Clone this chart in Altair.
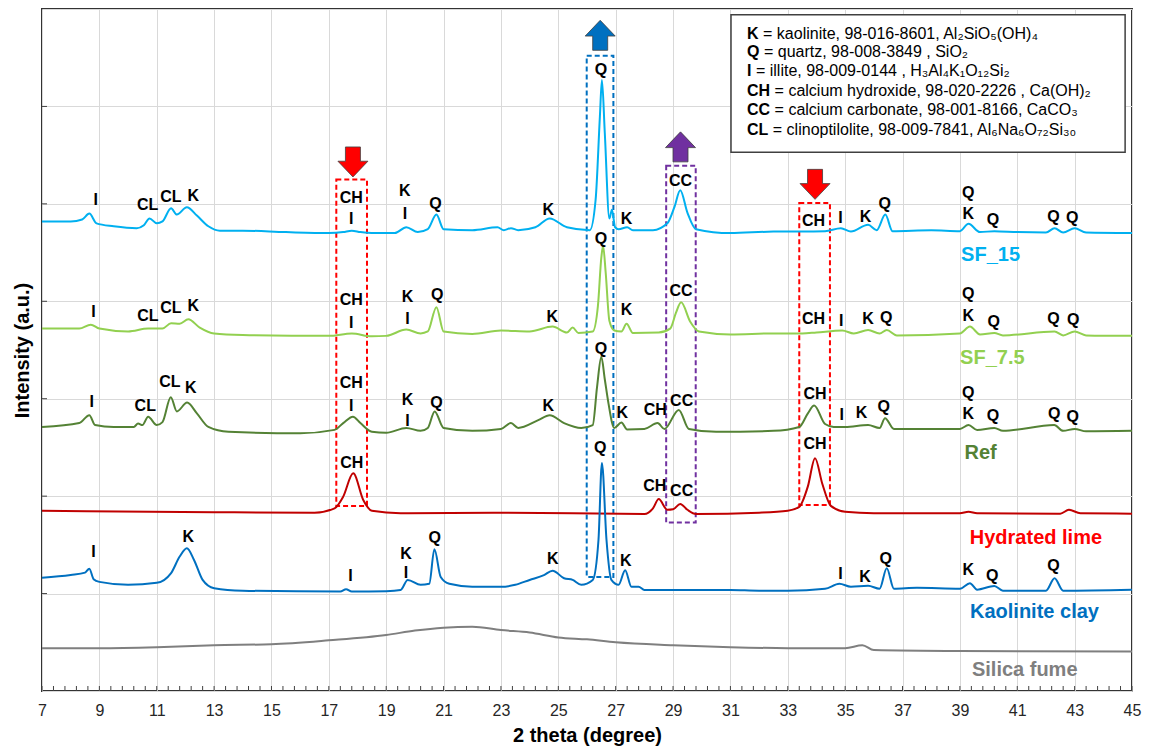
import altair as alt
import pandas as pd

# ---------------- series data (2theta in degrees, stacked intensity in a.u.) ----------------
sf15_x = [7, 8, 8.4, 8.65, 8.9, 9.5, 10.3, 10.55, 10.75, 11.0, 11.2, 11.5, 11.7, 12.05, 12.4, 12.8, 13.2, 14, 15.5,
          17, 17.5, 17.8, 18.1, 18.5, 19.3, 19.7, 20.1, 20.45, 20.75, 21.0, 22, 22.88, 23.1, 23.35, 23.6, 24.2, 24.7,
          25.3, 26.1, 26.3, 26.45, 26.52, 26.62, 26.78, 26.87, 26.98, 27.1, 27.4, 27.6, 28.3, 28.8, 29.05, 29.25,
          29.5, 29.8, 31, 32.5, 33.5, 34.3, 34.85, 35.2, 35.8, 36.1, 36.4, 36.65, 38, 39, 39.3, 39.7, 40.2, 41, 42,
          42.3, 42.6, 43.0, 43.4, 45]
sf15_y = [4.82, 4.82, 4.84, 4.90, 4.80, 4.77, 4.75, 4.78, 4.85, 4.80, 4.82, 4.955, 4.89, 4.965, 4.88, 4.77, 4.725,
          4.725, 4.71, 4.70, 4.71, 4.725, 4.71, 4.70, 4.70, 4.76, 4.71, 4.74, 4.89, 4.74, 4.73, 4.76, 4.73, 4.75,
          4.73, 4.76, 4.85, 4.76, 4.73, 5.04, 5.90, 6.27, 5.73, 4.85, 4.94, 4.76, 4.74, 4.76, 4.73, 4.73, 4.80, 4.97,
          5.14, 4.91, 4.74, 4.70, 4.715, 4.715, 4.72, 4.75, 4.715, 4.785, 4.73, 4.89, 4.72, 4.73, 4.72, 4.795, 4.71,
          4.72, 4.71, 4.705, 4.75, 4.705, 4.75, 4.705, 4.70]

sf75_x = [7, 8.3, 8.7, 9.0, 10.0, 10.7, 11.2, 11.5, 11.8, 12.1, 12.5, 13.0, 14.0, 17.0, 17.8, 18.5, 19.0, 19.7, 20.2,
          20.45, 20.75, 21.0, 22.0, 23.0, 24.0, 24.8, 25.3, 25.5, 25.7, 26.2, 26.38, 26.5, 26.56, 26.65, 26.78, 26.95,
          27.2, 27.38, 27.6, 28.5, 28.9, 29.1, 29.28, 29.6, 29.9, 31.0, 32.5, 33.5, 34.0, 34.9, 35.3, 35.8, 36.2,
          36.45, 36.8, 39.0, 39.35, 39.7, 40.2, 40.5, 42.3, 42.6, 43.0, 43.4, 45.0]
sf75_y = [3.72, 3.72, 3.76, 3.72, 3.69, 3.72, 3.72, 3.775, 3.77, 3.815, 3.73, 3.67, 3.655, 3.645, 3.67, 3.64, 3.645,
          3.71, 3.67, 3.69, 3.94, 3.69, 3.665, 3.70, 3.69, 3.74, 3.68, 3.73, 3.675, 3.69, 3.95, 4.45, 4.57, 4.30, 3.80,
          3.70, 3.69, 3.77, 3.675, 3.68, 3.72, 3.88, 3.99, 3.79, 3.69, 3.66, 3.67, 3.67, 3.68, 3.70, 3.67, 3.705, 3.67,
          3.705, 3.65, 3.67, 3.74, 3.66, 3.675, 3.65, 3.69, 3.65, 3.69, 3.65, 3.645]

ref_x = [7, 8.3, 8.65, 8.85, 9.5, 10.2, 10.35, 10.5, 10.7, 11.0, 11.2, 11.49, 11.7, 12.06, 12.4, 12.8, 13.5, 16.0,
         17.2, 17.5, 17.84, 18.1, 18.5, 19.0, 19.7, 20.2, 20.45, 20.69, 21.0, 22.0, 23.0, 23.35, 23.6, 24.3, 24.7,
         25.2, 25.8, 26.2, 26.35, 26.5, 26.62, 26.75, 26.95, 27.2, 27.4, 28.0, 28.46, 28.7, 29.2, 29.55, 30.5, 32.5,
         33.4, 33.7, 33.92, 34.3, 34.6, 35.0, 35.8, 36.2, 36.39, 36.7, 39.0, 39.3, 39.6, 40.2, 40.5, 42.29, 42.6,
         43.0, 43.4, 45.0]
ref_y = [2.71, 2.75, 2.83, 2.73, 2.71, 2.71, 2.745, 2.73, 2.816, 2.73, 2.76, 3.015, 2.87, 2.96, 2.85, 2.71, 2.66,
         2.645, 2.68, 2.75, 2.816, 2.75, 2.66, 2.65, 2.70, 2.67, 2.70, 2.87, 2.70, 2.67, 2.69, 2.75, 2.70, 2.78, 2.83,
         2.75, 2.70, 2.73, 3.12, 3.43, 3.20, 2.95, 2.70, 2.755, 2.685, 2.69, 2.75, 2.69, 2.885, 2.69, 2.66, 2.67,
         2.71, 2.85, 2.93, 2.74, 2.71, 2.71, 2.73, 2.70, 2.80, 2.69, 2.69, 2.73, 2.68, 2.70, 2.67, 2.73, 2.67, 2.69,
         2.665, 2.67]

lime_x = [7, 13, 16.5, 17.2, 17.5, 17.85, 18.2, 18.5, 19.5, 23, 28.0, 28.3, 28.5, 28.8, 29.0, 29.25, 29.5, 29.8,
          32.0, 33.0, 33.4, 33.7, 33.95, 34.2, 34.5, 35.0, 36.0, 39.0, 39.3, 39.6, 42.5, 42.8, 43.2, 45.0]
lime_y = [1.85, 1.835, 1.83, 1.875, 1.995, 2.235, 1.96, 1.85, 1.825, 1.83, 1.817, 1.875, 1.97, 1.86, 1.865, 1.92,
          1.86, 1.817, 1.83, 1.85, 1.89, 2.10, 2.39, 2.13, 1.90, 1.84, 1.825, 1.825, 1.84, 1.825, 1.82, 1.86, 1.825,
          1.82]

kao_x = [7, 8.0, 8.5, 8.65, 8.8, 9.0, 10.0, 11.0, 11.5, 11.8, 12.05, 12.3, 12.6, 13.0, 14.0, 17.4, 17.6, 17.8, 19.0,
         19.5, 19.75, 20.2, 20.5, 20.68, 20.9, 21.2, 22.0, 23.0, 23.5, 24.0, 24.5, 24.8, 25.2, 25.5, 25.8, 26.2, 26.4,
         26.52, 26.68, 26.85, 27.1, 27.33, 27.55, 27.8, 28.0, 31.0, 32.0, 33.0, 34.3, 34.8, 35.2, 35.8, 36.2, 36.45,
         36.7, 37.5, 39.0, 39.35, 39.6, 40.2, 40.5, 42.0, 42.3, 42.6, 45.0]
kao_y = [1.163, 1.19, 1.215, 1.256, 1.147, 1.12, 1.09, 1.11, 1.21, 1.38, 1.465, 1.345, 1.14, 1.055, 1.03, 1.02,
         1.045, 1.02, 1.025, 1.037, 1.14, 1.09, 1.10, 1.455, 1.17, 1.10, 1.07, 1.07, 1.09, 1.14, 1.19, 1.235, 1.157,
         1.14, 1.09, 1.14, 1.55, 2.34, 1.55, 1.14, 1.09, 1.24, 1.07, 1.07, 1.037, 1.037, 1.03, 1.03, 1.05, 1.10, 1.07,
         1.08, 1.05, 1.26, 1.05, 1.06, 1.05, 1.106, 1.04, 1.078, 1.03, 1.03, 1.157, 1.03, 1.04]

sfume_x = [7, 9, 11, 13, 15, 17, 19, 20, 21, 22, 23, 24, 25, 26, 27, 29, 31, 33, 35, 35.6, 36.0, 39, 45]
sfume_y = [0.44, 0.44, 0.45, 0.47, 0.48, 0.52, 0.575, 0.62, 0.65, 0.66, 0.625, 0.60, 0.55, 0.53, 0.50, 0.47, 0.45,
           0.44, 0.44, 0.47, 0.42, 0.41, 0.405]

series_names = ["SF_15", "SF_7.5", "Ref", "Hydrated lime", "Kaolinite clay", "Silica fume"]
series_xs = [sf15_x, sf75_x, ref_x, lime_x, kao_x, sfume_x]
series_ys = [sf15_y, sf75_y, ref_y, lime_y, kao_y, sfume_y]
line_colors = ["#00B0F0", "#92D050", "#548235", "#C00000", "#0070C0", "#7F7F7F"]
name_colors = ["#00B0F0", "#92D050", "#548235", "#FF0000", "#0070C0", "#7F7F7F"]
name_x = [40.07, 40.13, 39.72, 41.65, 41.6, 41.26]
name_y = [4.48, 3.42, 2.44, 1.57, 0.81, 0.22]

# ---------------- phase labels ----------------
peak_text = ["I", "CL", "CL", "K", "CH", "I", "K", "I", "Q", "K", "Q", "K", "CC", "CH", "I", "K", "Q", "Q", "K", "Q", "Q", "Q",
             "I", "CL", "CL", "K", "CH", "I", "K", "I", "Q", "K", "Q", "K", "CC", "CH", "I", "K", "Q", "Q", "K", "Q", "Q", "Q",
             "I", "CL", "CL", "K", "CH", "I", "K", "I", "Q", "K", "Q", "K", "CH", "CC", "CH", "I", "K", "Q", "Q", "K", "Q", "Q", "Q",
             "CH", "CH", "CC", "CH",
             "I", "K", "I", "K", "I", "Q", "K", "Q", "K", "I", "K", "Q", "K", "Q", "Q"]
peak_x = [8.87, 10.68, 11.49, 12.27, 17.78, 17.78, 19.65, 19.65, 20.72, 24.65, 26.49, 27.38, 29.26, 33.9, 34.84, 35.71, 36.38, 39.29, 39.29, 40.15, 42.26, 42.92,
          8.79, 10.69, 11.49, 12.27, 17.78, 17.78, 19.74, 19.74, 20.78, 24.79, 26.49, 27.38, 29.28, 33.9, 34.86, 35.8, 36.43, 39.29, 39.29, 40.18, 42.26, 42.95,
          8.73, 10.6, 11.46, 12.19, 17.78, 17.78, 19.74, 19.74, 20.75, 24.65, 26.49, 27.23, 28.38, 29.3, 33.95, 34.88, 35.57, 36.34, 39.29, 39.29, 40.15, 42.29, 42.93,
          17.8, 28.36, 29.3, 33.95,
          8.79, 12.1, 17.75, 19.69, 19.69, 20.69, 24.81, 26.46, 27.35, 34.84, 35.69, 36.41, 39.29, 40.13, 42.26]
peak_y = [5.04, 4.99, 5.07, 5.08, 5.06, 4.84, 5.13, 4.90, 5.00, 4.94, 6.37, 4.84, 5.23, 4.82, 4.85, 4.86, 5.00, 5.11, 4.90, 4.83, 4.86, 4.85,
          3.89, 3.85, 3.93, 3.95, 4.01, 3.78, 4.04, 3.82, 4.06, 3.84, 4.64, 3.91, 4.11, 3.82, 3.80, 3.82, 3.83, 4.07, 3.85, 3.79, 3.82, 3.81,
          2.97, 2.93, 3.17, 3.11, 3.16, 2.93, 2.99, 2.77, 2.96, 2.93, 3.51, 2.85, 2.88, 2.98, 3.05, 2.83, 2.85, 2.91, 3.06, 2.84, 2.82, 2.84, 2.81,
          2.34, 2.10, 2.05, 2.54,
          1.43, 1.58, 1.18, 1.41, 1.21, 1.57, 1.35, 2.49, 1.33, 1.20, 1.17, 1.35, 1.24, 1.18, 1.28]

# ---------------- highlight boxes and arrows ----------------
box_x1 = [17.26, 33.40, 25.99, 28.76]
box_x2 = [18.33, 34.47, 26.92, 29.79]
box_y1 = [1.90, 1.91, 1.17, 1.73]
box_y2 = [5.25, 5.01, 6.52, 5.39]
box_col = ["#FF0000", "#FF0000", "#0070C0", "#7030A0"]

arrow_x = [17.84, 33.95, 26.46, 29.26]
arrow_y = [5.43, 5.20, 6.73, 5.585]
arrow_dir = ["down", "down", "up", "up"]
arrow_col = ["#FF0000", "#FF0000", "#0070C0", "#7030A0"]

# ---------------- phase key ----------------
key_codes = ["K", "Q", "I", "CH", "CC", "CL"]
key_descs = ["= kaolinite, 98-016-8601, Al₂SiO₅(OH)₄",
             "= quartz, 98-008-3849 , SiO₂",
             "= illite, 98-009-0144 , H₃Al₄K₁O₁₂Si₂",
             "= calcium hydroxide, 98-020-2226 , Ca(OH)₂",
             "= calcium carbonate, 98-001-8166, CaCO₃",
             "= clinoptilolite, 98-009-7841, Al₆Na₆O₇₂Si₃₀"]
key_y = [6.745, 6.555, 6.366, 6.160, 5.965, 5.76]
key_left = 31.58
key_box = {"x": 31.02, "x2": 44.76, "y": 6.94, "y2": 5.53}

x_tick_labels = list(range(7, 46, 2))
minor_ticks = [round(7 + 0.4 * i, 2) for i in range(96)]

# ---------------- build ----------------
FONT = "Liberation Sans"
W, H = 1090, 682
px_per_deg = W / 38.0

rows = []
for n, xs_, ys_ in zip(series_names, series_xs, series_ys):
    for a, b in zip(xs_, ys_):
        rows.append({"series": n, "x": a, "y": b})
df_lines = pd.DataFrame(rows)

xs = alt.Scale(domain=[7, 45], nice=False, zero=False)
ys = alt.Scale(domain=[0, 7], nice=False, zero=False)
x_axis = alt.Axis(values=x_tick_labels, grid=True, gridColor="#D9D9D9", gridWidth=1, ticks=False, domain=False,
                  labelFont=FONT, labelFontSize=16, labelColor="#262626", labelPadding=11, labelFlush=False,
                  labelOverlap=False, format="d", title="2 theta (degree)", titleFont=FONT, titleFontSize=20,
                  titleFontWeight="bold", titleColor="#000000", titlePadding=7)
y_axis = alt.Axis(values=list(range(0, 8)), grid=True, gridColor="#D9D9D9", gridWidth=1, ticks=False, domain=False,
                  labels=False, title="Intensity (a.u.)", titleFont=FONT, titleFontSize=20, titleFontWeight="bold",
                  titleColor="#000000", titlePadding=10)


def X(f="x"):
    return alt.X(f + ":Q", scale=xs, axis=x_axis, title="2 theta (degree)")


def Y(f="y"):
    return alt.Y(f + ":Q", scale=ys, axis=y_axis, title="Intensity (a.u.)")


lines = alt.Chart(df_lines).mark_line(strokeWidth=2, interpolate="monotone").encode(
    x=X(), y=Y(),
    color=alt.Color("series:N", scale=alt.Scale(domain=series_names, range=line_colors), legend=None),
    strokeWidth=alt.condition(alt.datum.series == "Silica fume", alt.value(1.5), alt.value(2)),
)

df_box = pd.DataFrame({"x": box_x1, "x2": box_x2, "y": box_y1, "y2": box_y2, "c": box_col})
boxes = alt.Chart(df_box).mark_rect(filled=False, strokeWidth=2, strokeDash=[5, 3]).encode(
    x=X(), x2="x2:Q", y=Y(), y2="y2:Q", stroke=alt.Stroke("c:N", scale=None))

down_path = "M -0.5 -1 L 0.5 -1 L 0.5 -0.05 L 1 -0.05 L 0 1 L -1 -0.05 L -0.5 -0.05 Z"
up_path = "M -0.5 1 L 0.5 1 L 0.5 0.05 L 1 0.05 L 0 -1 L -1 0.05 L -0.5 0.05 Z"
df_arrow = pd.DataFrame({"x": arrow_x, "y": arrow_y, "d": arrow_dir, "c": arrow_col})
arrows = alt.Chart(df_arrow).mark_point(filled=True, size=900, opacity=1, stroke="#404040", strokeWidth=0.8).encode(
    x=X(), y=Y(), fill=alt.Fill("c:N", scale=None),
    shape=alt.Shape("d:N", scale=alt.Scale(domain=["down", "up"], range=[down_path, up_path]), legend=None))

key_rect = alt.Chart(pd.DataFrame([key_box])).mark_rect(fill="white", stroke="#404040", strokeWidth=1.5).encode(
    x=X(), x2="x2:Q", y=Y(), y2="y2:Q")

bold_w = {"K": 0.722, "Q": 0.778, "I": 0.278, "C": 0.722, "H": 0.722, "L": 0.611}
KEY_FS = 16
rest_x = [key_left + (sum(bold_w[ch] for ch in c) * KEY_FS + 0.278 * KEY_FS) / px_per_deg for c in key_codes]
df_key = pd.DataFrame({"code": key_codes, "desc": key_descs, "y": key_y, "x": [key_left] * 6, "xr": rest_x})
key_code = alt.Chart(df_key).mark_text(font=FONT, fontSize=KEY_FS, fontWeight="bold", align="left",
                                       baseline="middle", color="black").encode(x=X(), y=Y(), text="code:N")
key_rest = alt.Chart(df_key).mark_text(font=FONT, fontSize=KEY_FS, align="left", baseline="middle",
                                       color="black").encode(x=X("xr"), y=Y(), text="desc:N")

df_peak = pd.DataFrame({"t": peak_text, "x": peak_x, "y": peak_y})
peaks = alt.Chart(df_peak).mark_text(font=FONT, fontSize=16, fontWeight="bold", color="black",
                                     baseline="middle").encode(x=X(), y=Y(), text="t:N")

df_names = pd.DataFrame({"t": series_names, "x": name_x, "y": name_y, "c": name_colors})
names = alt.Chart(df_names).mark_text(font=FONT, fontSize=20, fontWeight="bold", baseline="middle").encode(
    x=X(), y=Y(), text="t:N", color=alt.Color("c:N", scale=None))

xticks = alt.Chart(pd.DataFrame({"x": minor_ticks})).mark_rule(color="#404040", strokeWidth=1).encode(
    x=X(), y=alt.value(H), y2=alt.value(H - 5))
yticks = alt.Chart(pd.DataFrame({"y": list(range(1, 7))})).mark_rule(color="#404040", strokeWidth=1).encode(
    y=Y(), x=alt.value(0), x2=alt.value(5))

chart = alt.layer(boxes, lines, key_rect, key_code, key_rest, peaks, names, arrows, xticks, yticks).properties(
    width=W, height=H,
    padding={"left": 34, "top": 1, "right": 10, "bottom": 59},
    autosize=alt.AutoSizeParams(type="none"),
    background="white",
).configure_view(stroke="#333333", strokeWidth=2)

chart.save("out.html", embed_options={"renderer": "svg", "actions": False})
